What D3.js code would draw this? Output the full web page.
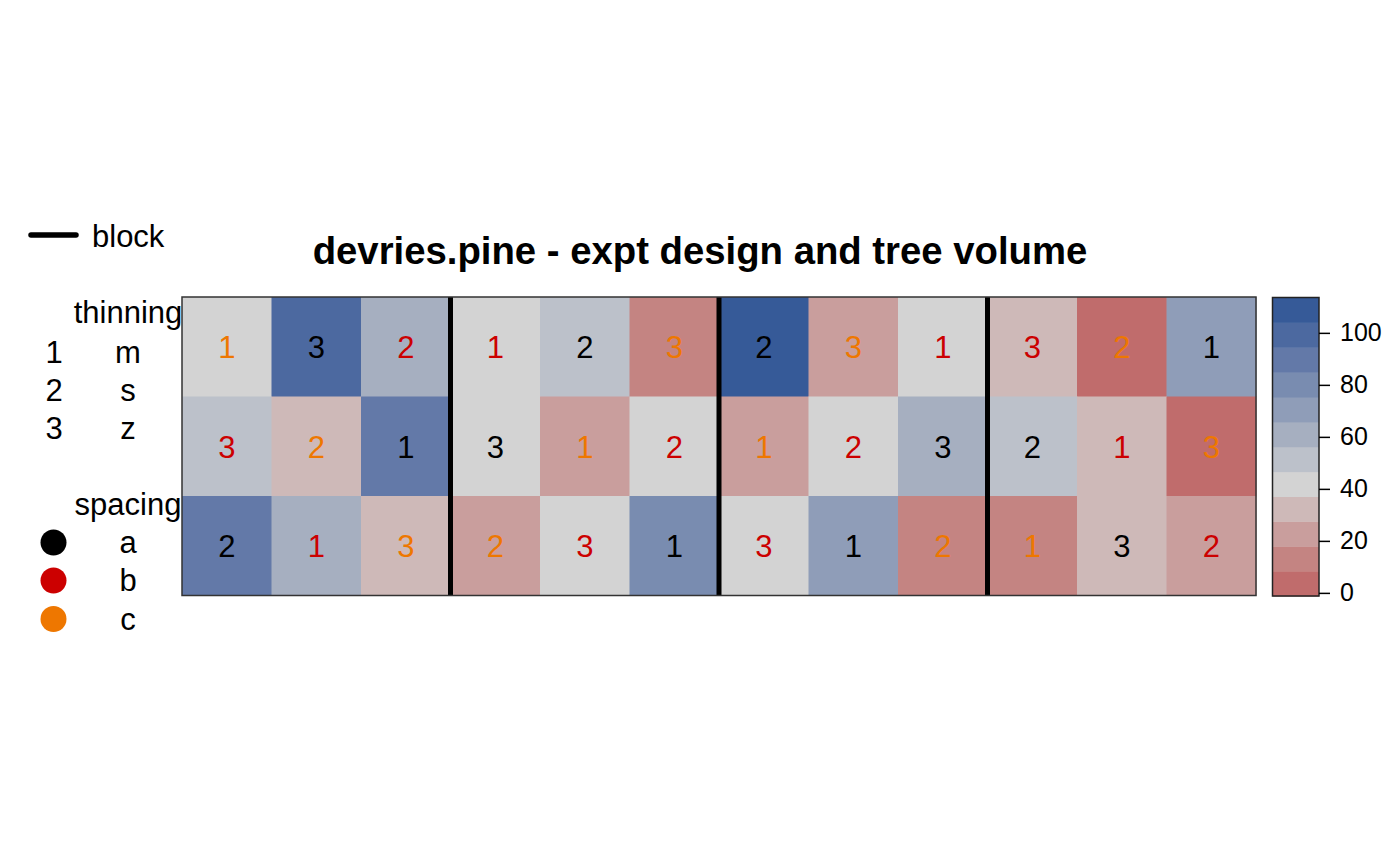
<!DOCTYPE html>
<html>
<head>
<meta charset="utf-8">
<script src="https://cdn.jsdelivr.net/npm/d3@7"></script>
<style>
  html, body { margin: 0; padding: 0; background: #fff; }
  svg { display: block; font-family: "Liberation Sans", Arial, sans-serif; }
</style>
</head>
<body>
<svg id="chart" width="1400" height="866"></svg>
<script>
// ---------------- data ----------------
const titleText = "devries.pine - expt design and tree volume";
const rowIds = [1, 2, 3];                         // top to bottom
const colIds = [1, 2, 3, 4, 5, 6, 7, 8, 9, 10, 11, 12];
const blockOfCol = [1, 1, 1, 2, 2, 2, 3, 3, 3, 4, 4, 4];

// tree volume per cell (rows top to bottom)
const volumeRow1 = [41, 100, 61, 43, 52, 13, 111, 23, 40, 33, 2, 71];
const volumeRow2 = [50, 31, 90, 42, 24, 44, 22, 39, 60, 51, 32, 4];
const volumeRow3 = [89, 62, 33, 21, 43, 80, 41, 69, 14, 12, 31, 24];

const thinningRow1 = [1, 3, 2, 1, 2, 3, 2, 3, 1, 3, 2, 1];
const thinningRow2 = [3, 2, 1, 3, 1, 2, 1, 2, 3, 2, 1, 3];
const thinningRow3 = [2, 1, 3, 2, 3, 1, 3, 1, 2, 1, 3, 2];

const spacingRow1 = ["c", "a", "b", "b", "a", "c", "a", "c", "b", "b", "c", "a"];
const spacingRow2 = ["b", "c", "a", "a", "c", "b", "c", "b", "a", "a", "b", "c"];
const spacingRow3 = ["a", "b", "c", "c", "b", "a", "b", "a", "c", "c", "a", "b"];

const thinningCodes = ["1", "2", "3"];
const thinningLevels = ["m", "s", "z"];
const spacingLevels = ["a", "b", "c"];
const spacingColors = ["#000000", "#CC0000", "#EE7700"];

const colorDomain = [-1.2, 113.6];
const palette = ["#C06C6C", "#C48482", "#C99E9D", "#CEB9B8", "#D3D3D3", "#BCC1CA",
                 "#A6AFC0", "#8F9DB8", "#798CB0", "#6379A8", "#4C69A0", "#365A98"];
const keyTicks = [0, 20, 40, 60, 80, 100];

// ---------------- layout ----------------
const svg = d3.select("#chart");
const plot = { left: 182, right: 1256, top: 297, bottom: 595.5 };
const key = { left: 1272.5, right: 1319, top: 297.5, bottom: 596 };

const volumes = [volumeRow1, volumeRow2, volumeRow3];
const thinnings = [thinningRow1, thinningRow2, thinningRow3];
const spacings = [spacingRow1, spacingRow2, spacingRow3];

const cells = [];
rowIds.forEach((r, ri) => colIds.forEach((c, ci) => {
  cells.push({ row: r, col: c, block: blockOfCol[ci], vol: volumes[ri][ci],
               thin: thinnings[ri][ci], sp: spacings[ri][ci] });
}));

const x = d3.scaleBand().domain(colIds).range([plot.left, plot.right]).padding(0);
const y = d3.scaleBand().domain(rowIds).range([plot.top, plot.bottom]).padding(0);

const nBins = palette.length;
const binEdges = d3.range(nBins + 1).map(i => colorDomain[0] + i * (colorDomain[1] - colorDomain[0]) / nBins);
const color = d3.scaleThreshold().domain(binEdges.slice(1, -1)).range(palette);
const spColor = d3.scaleOrdinal().domain(spacingLevels).range(spacingColors);

// title
svg.append("text")
  .attr("x", 700).attr("y", 264)
  .attr("text-anchor", "middle")
  .attr("font-weight", "bold").attr("font-size", 38.3)
  .text(titleText);

// cells
svg.append("g").selectAll("rect").data(cells).join("rect")
  .attr("x", d => x(d.col)).attr("y", d => y(d.row))
  .attr("width", x.bandwidth() + 0.5).attr("height", y.bandwidth() + 0.5)
  .attr("fill", d => color(d.vol));

// cell labels
svg.append("g").selectAll("text").data(cells).join("text")
  .attr("x", d => x(d.col) + x.bandwidth() / 2)
  .attr("y", d => y(d.row) + y.bandwidth() / 2 + 11.5)
  .attr("text-anchor", "middle")
  .attr("font-size", 31)
  .attr("fill", d => spColor(d.sp))
  .text(d => d.thin);

// block boundaries
const blockStarts = colIds.filter((c, i) => i > 0 && blockOfCol[i] !== blockOfCol[i - 1]);
svg.append("g").selectAll("line").data(blockStarts).join("line")
  .attr("x1", d => x(d)).attr("x2", d => x(d))
  .attr("y1", plot.top).attr("y2", plot.bottom)
  .attr("stroke", "#000").attr("stroke-width", 5);

// frame
svg.append("rect")
  .attr("x", plot.left).attr("y", plot.top)
  .attr("width", plot.right - plot.left).attr("height", plot.bottom - plot.top)
  .attr("fill", "none").attr("stroke", "#333").attr("stroke-width", 1.5);

// colour key
const ky = d3.scaleLinear().domain(colorDomain).range([key.bottom, key.top]);
svg.append("g").selectAll("rect").data(palette).join("rect")
  .attr("x", key.left)
  .attr("y", (d, i) => ky(binEdges[i + 1]))
  .attr("width", key.right - key.left)
  .attr("height", (d, i) => ky(binEdges[i]) - ky(binEdges[i + 1]) + 0.5)
  .attr("fill", d => d);
svg.append("rect")
  .attr("x", key.left).attr("y", key.top)
  .attr("width", key.right - key.left).attr("height", key.bottom - key.top)
  .attr("fill", "none").attr("stroke", "#222").attr("stroke-width", 1.5);

const keyAxis = d3.axisRight(ky).tickValues(keyTicks).tickSize(11).tickPadding(10);
const kg = svg.append("g").attr("transform", `translate(${key.right},0)`).call(keyAxis);
kg.select(".domain").remove();
kg.selectAll(".tick line").attr("stroke", "#000").attr("stroke-width", 1.5);
kg.selectAll(".tick text").attr("font-size", 25).attr("fill", "#000")
  .attr("font-family", "Liberation Sans, Arial, sans-serif");

// ---------------- legend ----------------
const lg = svg.append("g").attr("font-size", 31);
lg.append("line").attr("x1", 31).attr("x2", 76).attr("y1", 235).attr("y2", 235)
  .attr("stroke", "#000").attr("stroke-width", 5.5).attr("stroke-linecap", "round");
lg.append("text").attr("x", 92).attr("y", 247).text("block");

lg.append("text").attr("x", 128).attr("y", 323).attr("text-anchor", "middle").text("thinning");
const thinBase = [363, 401, 439];
thinningLevels.forEach((lv, i) => {
  lg.append("text").attr("x", 54).attr("y", thinBase[i]).attr("text-anchor", "middle").text(thinningCodes[i]);
  lg.append("text").attr("x", 128).attr("y", thinBase[i]).attr("text-anchor", "middle").text(lv);
});

lg.append("text").attr("x", 128).attr("y", 515).attr("text-anchor", "middle").text("spacing");
const spBase = [553, 591, 629.5];
spacingLevels.forEach((lv, i) => {
  lg.append("circle").attr("cx", 53.5).attr("cy", spBase[i] - 10.5).attr("r", 13)
    .attr("fill", spColor(lv));
  lg.append("text").attr("x", 128).attr("y", spBase[i]).attr("text-anchor", "middle").text(lv);
});
</script>
</body>
</html>
